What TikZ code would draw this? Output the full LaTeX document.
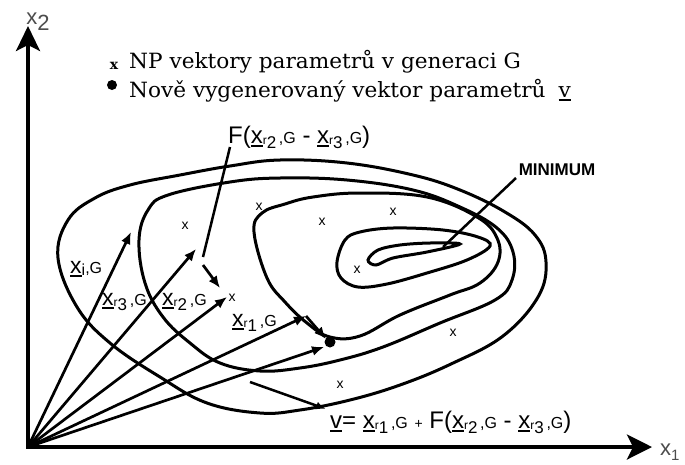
\documentclass[tikz,border=0pt]{standalone}
\usepackage{fontspec}
\setmainfont{DejaVu Serif}
\newfontfamily\serifw[FakeStretch=1.03]{DejaVu Serif}
\newfontfamily\lsans{Liberation Sans}
\usetikzlibrary{arrows.meta}
\newcommand{\fs}[1]{\fontsize{#1}{#1}\selectfont}
\newcommand{\ulx}[1]{\setbox0\hbox{#1}\rlap{\rule[-3.5pt]{\wd0}{1.8pt}}\box0}
\newcommand{\xsub}[1]{\ulx{x}\raisebox{-1.5pt}{\fs{12}r}\raisebox{-5.5pt}{\fs{17}#1}{\fs{16}\,,G}}
\begin{document}
\begin{tikzpicture}[x=1pt,y=-1pt,
  contour/.style={line width=3pt},
  vec/.style={line width=2.7pt,-{Latex[length=12pt,width=10pt]}},
  axisline/.style={line width=3.4pt},
  lead/.style={line width=2.5pt},
  xmark/.style={font=\lsans\fs{14},inner sep=0pt},
  lab/.style={font=\lsans\fs{23},inner sep=0pt,anchor=base west},
  flab/.style={font=\lsans\fs{24},inner sep=0pt,anchor=base west}]
\useasboundingbox (0,0) rectangle (685,464);
\fill[white] (0,0) rectangle (685,464);
% axes
\coordinate (O) at (28,447);
\coordinate (Y) at (28,26);
\coordinate (X) at (652,447);
\draw[axisline,{Stealth[length=25pt,width=24pt,inset=6pt]}-{Stealth[length=25pt,width=25pt,inset=6pt]}] (Y) -- (O) -- (X);
\node[font=\lsans\fs{22},text=black!70,inner sep=0pt] (lx2) at (38,22) {x\raisebox{-6pt}{2}};
\node[font=\lsans\fs{22},text=black!70,inner sep=0pt,anchor=base west] (lx1) at (660,455) {x\raisebox{-5pt}{\fs{15}1}};
% legend
\node[font=\bfseries\fs{14},inner sep=0pt] (lgx) at (114,66) {x};
\node[font=\serifw\fs{21},inner sep=0pt,anchor=base west] (lg1) at (129,68) {NP vektory parametrů v generaci G};
\fill (112,85) circle (5);
\node[font=\serifw\fs{21},inner sep=0pt,anchor=base west] (lg2) at (129,97) {Nově vygenerovaný vektor parametrů\hspace{13pt}\ulx{v}};
% contours
\draw[contour] plot[smooth cycle,tension=0.65] coordinates {(58,258) (68,220) (95,198) (130,185) (180,175) (230,166) (280,160) (347,163) (413,175) (460,190) (505,212) (535,235) (546,262) (538,297) (503,336) (451,364) (400,385) (350,400) (300,410) (260,413) (207,403) (160,377) (110,343) (77,307)};
\draw[contour] plot[smooth cycle,tension=0.65] coordinates {(139,240) (148,210) (168,195) (230,182) (280,178) (347,180) (413,190) (460,207) (497,228) (513,252) (512,280) (495,300) (440,323) (383,347) (340,360) (300,368) (260,371) (220,363) (190,343) (163,317) (145,283)};
\draw[contour] plot[smooth cycle,tension=0.65] coordinates {(254,232) (262,213) (285,204) (313,197) (360,193) (427,197) (477,217) (497,238) (498,262) (480,283) (450,295) (400,315) (360,336) (330,337) (307,323) (285,302) (267,278)};
\draw[contour] plot[smooth cycle,tension=0.6] coordinates {(337,262) (345,240) (360,232) (393,228) (443,230) (478,237) (490,246) (467,260) (427,273) (387,284) (358,287) (341,278)};
\draw[contour] plot[smooth cycle,tension=0.55] coordinates {(368,260) (378,250) (400,245) (430,243) (460,244) (427,252) (393,258) (376,265)};
% scattered x marks
\node[xmark] (m1) at (185,226) {x};
\node[xmark] (m2) at (259,207) {x};
\node[xmark] (m3) at (322,222) {x};
\node[xmark] (m4) at (393,212) {x};
\node[xmark] (m5) at (357,270) {x};
\node[xmark] (m6) at (453,333) {x};
\node[xmark] (m7) at (340,385) {x};
\node[xmark] (m8) at (232,298) {x};
% vectors
\coordinate (xi) at (131,232);
\coordinate (xr3) at (196,249);
\coordinate (xr2) at (227,297);
\coordinate (xr1) at (306,316);
\coordinate (vt) at (324,347);
\coordinate (dot) at (330,342);
\draw[vec] (O) -- (xi);
\draw[vec] (O) -- (xr3);
\draw[vec] (O) -- (xr2);
\draw[vec] (O) -- (xr1);
\draw[vec] (O) -- (vt);
\draw[vec] (xr1) -- (326,339);
\fill (dot) circle (5.5);
\coordinate (fa) at (203,265);
\coordinate (fb) at (220,288);
\draw[vec] (fa) -- (fb);
% labels
\node[lab] (li) at (70,273) {\ulx{x}\raisebox{-2pt}{\fs{16}i}{\fs{16},G}};
\node[lab] (l3) at (102,305) {\xsub{3}};
\node[lab] (l2) at (162,305) {\xsub{2}};
\node[lab] (l1) at (232,326) {\xsub{1}};
\node[flab] (lf) at (228,143) {F(\xsub{2} - \xsub{3})};
\node[flab] (lv) at (330,428) {\ulx{v}= \xsub{1} {\fs{14}+} F(\xsub{2} - \xsub{3})};
\node[font=\lsans\bfseries\fs{17},inner sep=0pt] (lmin) at (557,170) {MINIMUM};
% leaders
\coordinate (fl) at (230,147);
\coordinate (fe) at (203,257);
\draw[lead] (fl) -- (fe);
\coordinate (ms) at (516,178);
\coordinate (me) at (443,247);
\draw[lead] (ms) -- (me);
\coordinate (vs) at (250,382);
\coordinate (ve) at (326,409);
\draw[lead,-{Latex[length=10pt,width=8pt]}] (vs) -- (ve);
\end{tikzpicture}
\end{document}
